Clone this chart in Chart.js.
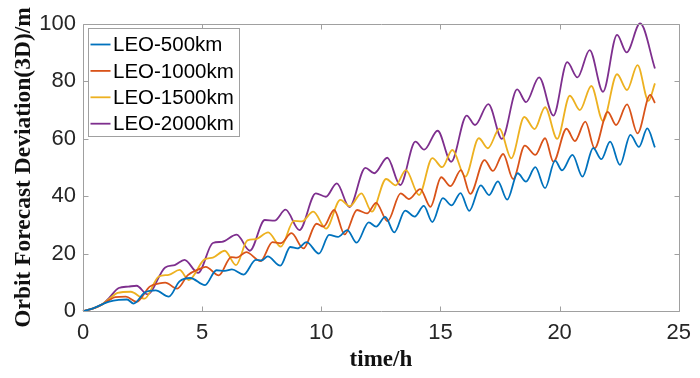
<!DOCTYPE html>
<html>
<head>
<meta charset="utf-8">
<script src="https://cdn.jsdelivr.net/npm/chart.js@4.4.1/dist/chart.umd.min.js"></script>
<style>
  html, body { margin: 0; padding: 0; background: #ffffff; }
  #wrap { width: 700px; height: 378px; position: relative; }
</style>
</head>
<body>
<div id="wrap"><canvas id="chart" width="700" height="378"></canvas></div>
<script>
// Orbit forecast deviation (3D) over 24 h for four LEO altitudes.
const seriesNames = ['LEO-500km', 'LEO-1000km', 'LEO-1500km', 'LEO-2000km'];
const seriesColors = ['#0072BD', '#D95319', '#EDB120', '#7E2F8E'];

const tLeo500 = [0,0.4,0.8,1.1,1.5,1.85,2.12,2.6,3.05,3.6,4.05,4.5,5.12,5.6,5.95,6.25,6.74,7.25,7.5,7.75,8.28,8.7,9.0,9.38,9.9,10.33,10.7,11.09,11.48,11.99,12.3,12.68,13.06,13.52,13.92,14.3,14.66,15.1,15.47,15.84,16.21,16.69,17.04,17.41,17.8,18.24,18.59,18.98,19.39,19.81,20.1,20.54,20.96,21.41,21.75,22.12,22.53,22.97,23.33,23.68,24.0];
const dLeo500 = [0,0.8,2.3,3.3,3.9,4.0,2.6,6.5,7.2,5.0,10.3,11.5,9.0,14.2,14.0,14.5,12.7,17.8,17.6,19.0,15.8,22.3,21.8,24.0,20.0,26.5,25.8,28.2,23.8,30.9,29.4,32.8,27.4,35.0,32.9,36.6,31.0,39.3,36.8,41.1,34.9,43.8,40.4,45.2,38.8,48.0,45.1,50.1,42.8,52.4,49.0,54.4,46.8,56.8,52.9,59.0,50.9,61.4,57.2,63.6,57.0];

const tLeo1000 = [0,0.4,0.8,1.1,1.35,1.8,2.25,2.8,3.2,3.45,3.95,4.4,4.85,5.15,5.7,6.22,6.45,6.85,7.45,7.95,8.3,8.75,9.25,9.8,10.09,10.54,10.98,11.5,11.92,12.3,12.78,13.33,13.68,14.15,14.58,15.03,15.42,15.86,16.25,16.85,17.2,17.63,18.05,18.54,18.98,19.39,19.74,20.29,20.64,21.08,21.47,22.02,22.37,22.83,23.27,23.8,24.0];
const dLeo1000 = [0,0.8,2.3,3.8,4.8,5.0,3.2,8.5,9.6,9.9,7.8,12.5,14.5,15.4,12.4,18.8,18.6,20.5,17.4,24.0,23.6,27.1,21.8,30.4,29.4,35.2,26.7,35.2,34.0,37.7,31.3,41.0,39.0,42.5,36.3,46.6,43.5,49.1,40.8,52.6,48.8,54.7,46.0,57.6,54.4,60.2,52.0,63.5,59.2,66.0,56.7,69.4,64.8,72.0,61.9,75.3,72.5];

const tLeo1500 = [0,0.4,0.8,1.1,1.45,2.0,2.58,3.18,3.6,4.05,4.44,5.1,5.45,5.95,6.42,6.9,7.25,7.77,8.3,8.85,9.18,9.66,10.2,10.8,11.2,11.68,12.12,12.72,13.12,13.55,14.1,14.66,15.07,15.5,16.04,16.61,16.99,17.48,17.97,18.52,18.95,19.39,19.9,20.43,20.85,21.33,21.82,22.41,22.83,23.27,23.73,24.0];
const dLeo1500 = [0,0.8,2.3,4.2,6.3,6.7,4.3,12.0,12.6,14.3,10.8,18.0,18.6,21.0,16.0,24.6,25.0,27.4,22.4,31.4,31.2,34.6,28.7,38.7,36.5,41.0,34.6,46.0,43.8,49.1,40.4,53.3,50.1,56.1,46.8,60.2,56.7,63.5,53.2,67.6,63.4,71.0,60.0,75.0,70.0,78.4,66.2,82.5,77.0,85.7,73.2,79.3];

const tLeo2000 = [0,0.4,0.8,1.1,1.5,1.9,2.25,2.7,3.45,3.85,4.26,4.83,5.45,5.83,6.45,7.0,7.63,8.04,8.5,9.08,9.77,10.19,10.65,11.18,11.85,12.22,12.77,13.31,13.95,14.32,14.88,15.45,16.1,16.45,17.01,17.58,18.22,18.59,19.14,19.74,20.32,20.75,21.26,21.82,22.41,22.81,23.38,24.0];
const dLeo2000 = [0,0.8,2.3,4.6,8.0,8.5,8.8,5.8,15.2,16.0,17.8,13.3,23.7,24.1,26.6,21.0,31.7,31.5,35.3,28.2,41.0,39.8,44.5,36.2,49.9,48.0,53.4,43.9,59.0,56.2,62.8,52.0,68.1,64.8,72.1,60.0,77.2,72.8,81.4,68.1,86.7,81.4,90.9,76.4,96.2,90.1,100.2,84.5];

const xTicks = [0, 5, 10, 15, 20, 25];
const yTicks = [0, 20, 40, 60, 80, 100];

const times = [tLeo500, tLeo1000, tLeo1500, tLeo2000];
const values = [dLeo500, dLeo1000, dLeo1500, dLeo2000];

const datasets = seriesNames.map((name, i) => ({
  label: name,
  data: times[i].map((t, k) => ({ x: t, y: values[i][k] })),
  borderColor: seriesColors[i],
  backgroundColor: seriesColors[i],
  borderWidth: 1.8,
  pointRadius: 0,
  fill: false,
  cubicInterpolationMode: 'monotone',
  clip: false
}));

const AXIS_GREY = '#a0a0a0';
const TICK_LEN = 5;

// Box around the plot with inward ticks on all four sides, plus the legend box.
const axesBox = {
  id: 'axesBox',
  afterDatasetsDraw(chart) {
    const { ctx, chartArea: a, scales: { x, y } } = chart;
    const L = Math.round(a.left) + 0.5, R = Math.round(a.right) + 0.5;
    const T = Math.round(a.top) + 0.5, B = Math.round(a.bottom) + 0.5;
    ctx.save();
    ctx.strokeStyle = AXIS_GREY;
    ctx.lineWidth = 1;
    ctx.beginPath();
    ctx.rect(L, T, R - L, B - T);
    xTicks.forEach(v => {
      const px = Math.round(x.getPixelForValue(v)) + 0.5;
      ctx.moveTo(px, B); ctx.lineTo(px, B - TICK_LEN);
      ctx.moveTo(px, T); ctx.lineTo(px, T + TICK_LEN);
    });
    yTicks.forEach(v => {
      const py = Math.round(y.getPixelForValue(v)) + 0.5;
      ctx.moveTo(L, py); ctx.lineTo(L + TICK_LEN, py);
      ctx.moveTo(R, py); ctx.lineTo(R - TICK_LEN, py);
    });
    ctx.stroke();

    // legend
    const bx = 88.5, by = 28.5, bw = 151, bh = 108;
    ctx.fillStyle = '#ffffff';
    ctx.fillRect(bx, by, bw, bh);
    ctx.strokeStyle = AXIS_GREY;
    ctx.strokeRect(bx, by, bw, bh);
    ctx.font = '20.5px "Liberation Sans", Arial, sans-serif';
    ctx.textBaseline = 'middle';
    ctx.textAlign = 'left';
    chart.data.datasets.forEach((ds, i) => {
      const yy = 44.5 + i * 26.4;
      ctx.strokeStyle = ds.borderColor;
      ctx.lineWidth = 1.8;
      ctx.beginPath();
      ctx.moveTo(90.5, yy); ctx.lineTo(110.5, yy);
      ctx.stroke();
      ctx.fillStyle = '#000000';
      ctx.fillText(ds.label, 113, yy + 1);
    });
    ctx.restore();
  }
};

new Chart(document.getElementById('chart'), {
  type: 'line',
  data: { datasets },
  options: {
    responsive: false,
    animation: false,
    devicePixelRatio: 1,
    layout: { padding: { top: 24, right: 16, left: 0, bottom: 0 } },
    plugins: { legend: { display: false }, tooltip: { enabled: false } },
    scales: {
      x: {
        type: 'linear', min: 0, max: 25,
        afterBuildTicks(s) { s.ticks = xTicks.map(v => ({ value: v })); },
        afterFit(s) { s.height = 67; },
        ticks: { color: '#262626', font: { family: '"Liberation Sans", Arial', size: 22 }, padding: 9, maxRotation: 0, autoSkip: false },
        grid: { display: false, drawTicks: false },
        border: { display: false },
        title: { display: true, text: 'time/h', color: '#111111',
          font: { family: '"Liberation Serif", "Times New Roman", serif', size: 23, weight: 'bold', lineHeight: 1 },
          padding: { top: 0, bottom: 6.5 } }
      },
      y: {
        type: 'linear', min: 0, max: 100,
        afterBuildTicks(s) { s.ticks = yTicks.map(v => ({ value: v })); },
        afterFit(s) { s.width = 83; },
        ticks: { color: '#262626', font: { family: '"Liberation Sans", Arial', size: 22 }, padding: 7, autoSkip: false },
        grid: { display: false, drawTicks: false },
        border: { display: false },
        title: { display: true, text: 'Orbit Forecast Deviation(3D)/m', color: '#111111',
          font: { family: '"Liberation Serif", "Times New Roman", serif', size: 23.5, weight: 'bold', lineHeight: 1 },
          padding: { top: 12.5, bottom: 0 } }
      }
    }
  },
  plugins: [axesBox]
});
</script>
</body>
</html>
